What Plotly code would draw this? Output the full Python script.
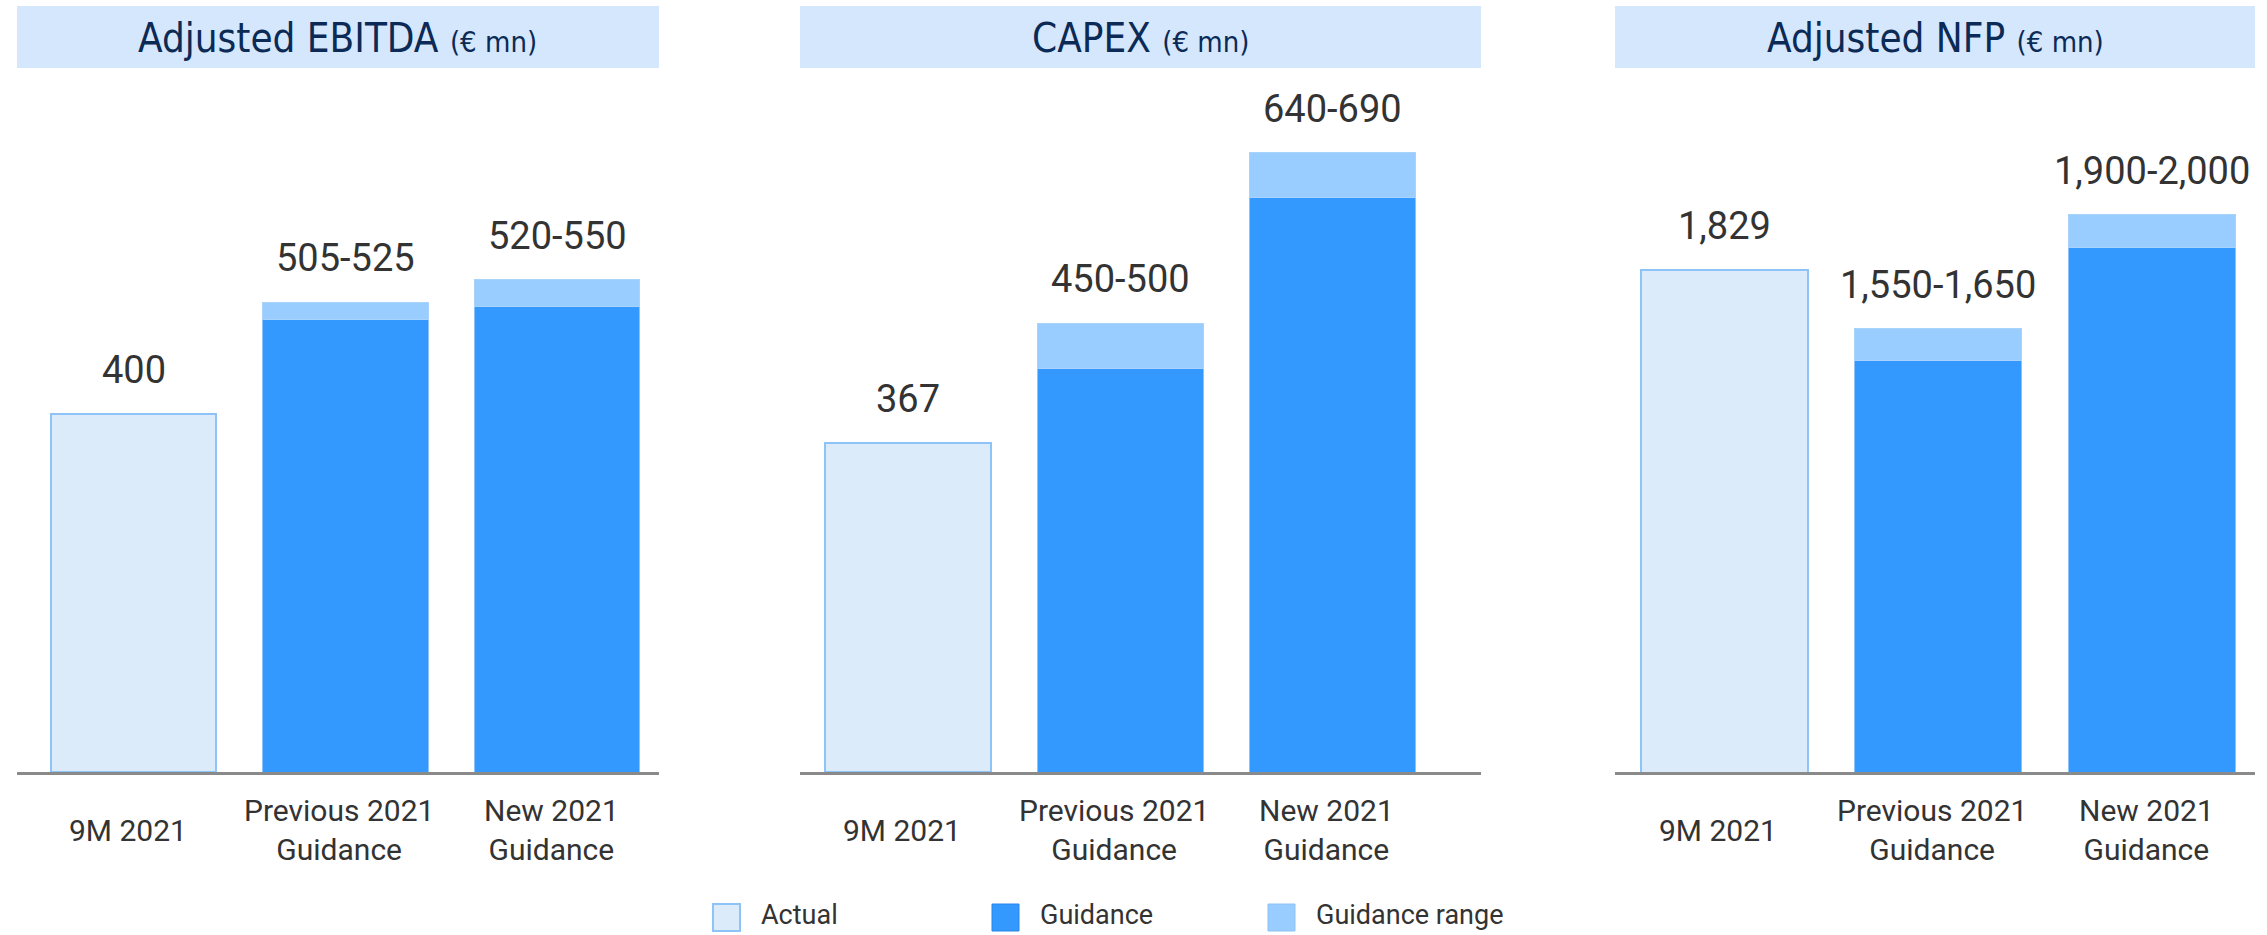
import plotly.graph_objects as go

# ---------------- data ----------------
categories = ["9M 2021", "Previous 2021 Guidance", "New 2021 Guidance"]
tick_labels = ["9M 2021", "Previous 2021<br>Guidance", "New 2021<br>Guidance"]

panel_titles = ["Adjusted EBITDA", "CAPEX", "Adjusted NFP"]
panel_units = ["(€ mn)", "(€ mn)", "(€ mn)"]

legend_labels = ["Actual", "Guidance", "Guidance range"]

ebitda_actual = [400, None, None]
ebitda_low = [None, 505, 520]
ebitda_high = [None, 525, 550]

capex_actual = [367, None, None]
capex_low = [None, 450, 640]
capex_high = [None, 500, 690]

nfp_actual = [1829, None, None]
nfp_low = [None, 1550, 1900]
nfp_high = [None, 1650, 2000]

series = [
    (ebitda_actual, ebitda_low, ebitda_high),
    (capex_actual, capex_low, capex_high),
    (nfp_actual, nfp_low, nfp_high),
]

# ---------------- style ----------------
W, H = 2267, 935
C_ACTUAL = "#DCEBFA"
C_ACTUAL_LINE = "#8DC3F7"
C_GUID = "#3399FF"
C_RANGE = "#99CCFF"
C_TITLE_BG = "#D5E7FD"
C_TITLE = "#0B2A55"
C_TEXT = "#333333"
LABEL_FONT = "Roboto, Arial, sans-serif"
TITLE_FONT = "'Liberation Sans Narrow', 'Arial Narrow', 'DejaVu Sans Condensed', sans-serif"

x_domains = [(17 / W, 659 / W), (800 / W, 1481 / W), (1615 / W, 2255 / W)]
x_ranges = [(-0.55, 2.48), (-0.51, 2.70), (-0.51, 2.48)]
y_bottom_px, y_top_px = 772, 80
y_domain = (1 - y_bottom_px / H, 1 - y_top_px / H)
y_ranges = [(0, 773), (0, 771), (283, 2416)]

fig = go.Figure()
annotations = []
shapes = []

for i, (actual, low, high) in enumerate(series):
    xa = "x" if i == 0 else f"x{i+1}"
    ya = "y" if i == 0 else f"y{i+1}"
    rng = [None if (l is None or h is None) else h - l for l, h in zip(low, high)]
    fig.add_trace(go.Bar(
        x=categories, y=actual, xaxis=xa, yaxis=ya, name=legend_labels[0],
        marker=dict(color=C_ACTUAL, line=dict(color=C_ACTUAL_LINE, width=2)),
        width=0.78, showlegend=False, hoverinfo="skip",
    ))
    fig.add_trace(go.Bar(
        x=categories, y=low, xaxis=xa, yaxis=ya, name=legend_labels[1],
        marker=dict(color=C_GUID, line=dict(color="#8CC3F8", width=1)),
        width=0.78, showlegend=False, hoverinfo="skip",
    ))
    fig.add_trace(go.Bar(
        x=categories, y=rng, xaxis=xa, yaxis=ya, name=legend_labels[2],
        marker=dict(color=C_RANGE, line=dict(color="#A9D3FB", width=1)),
        width=0.78, showlegend=False, hoverinfo="skip",
    ))

    # value labels
    for c, a, l, h in zip(categories, actual, low, high):
        if a is not None:
            txt, top = f"{a:,}", a
        else:
            txt, top = f"{l:,}-{h:,}", h
        annotations.append(dict(
            x=c, y=top, xref=xa, yref=ya, text=txt, showarrow=False,
            yanchor="bottom", yshift=20,
            font=dict(family=LABEL_FONT, size=38, color=C_TEXT),
        ))

    # category labels
    for c, t in zip(categories, tick_labels):
        annotations.append(dict(
            x=c, y=1 - 830 / H, xref=xa, yref="paper", text=t, showarrow=False,
            yanchor="middle", xanchor="center", align="center", xshift=-6,
            font=dict(family=LABEL_FONT, size=30, color=C_TEXT),
        ))

    # panel title box
    d0, d1 = x_domains[i]
    shapes.append(dict(type="rect", xref="paper", yref="paper",
                       x0=d0, x1=d1, y0=1 - 68 / H, y1=1 - 6 / H,
                       fillcolor=C_TITLE_BG, line=dict(width=0), layer="below"))
    annotations.append(dict(
        x=(d0 + d1) / 2, y=1 - 38 / H, xref="paper", yref="paper",
        text=f"{panel_titles[i]} <span style='font-size:29px'>{panel_units[i]}</span>",
        showarrow=False, xanchor="center", yanchor="middle",
        font=dict(family=TITLE_FONT, size=40, color=C_TITLE),
    ))

    axis_x = dict(domain=list(x_domains[i]), range=list(x_ranges[i]), type="category",
                  showline=True, linecolor="#8A8A8A", linewidth=3,
                  showticklabels=False, ticks="", showgrid=False, zeroline=False,
                  fixedrange=True, anchor=ya)
    axis_y = dict(domain=list(y_domain), range=list(y_ranges[i]), visible=False,
                  showgrid=False, zeroline=False, fixedrange=True, anchor=xa)
    if i == 0:
        fig.update_layout(xaxis=axis_x, yaxis=axis_y)
    else:
        fig.update_layout(**{f"xaxis{i+1}": axis_x, f"yaxis{i+1}": axis_y})

# ---------------- legend (swatches + labels) ----------------
legend_swatch_x = [713, 992, 1268]
legend_styles = [
    dict(fillcolor=C_ACTUAL, line=dict(color=C_ACTUAL_LINE, width=2)),
    dict(fillcolor=C_GUID, line=dict(color="#2A86E6", width=1)),
    dict(fillcolor=C_RANGE, line=dict(color="#8EC2F5", width=1)),
]
for lx, lab, st in zip(legend_swatch_x, legend_labels, legend_styles):
    shapes.append(dict(type="rect", xref="paper", yref="paper",
                       x0=lx / W, x1=(lx + 27) / W, y0=1 - 931 / H, y1=1 - 904 / H, **st))
    annotations.append(dict(
        x=(lx + 46) / W, y=1 - 915 / H, xref="paper", yref="paper", text=lab,
        showarrow=False, xanchor="left", yanchor="middle",
        font=dict(family=LABEL_FONT, size=27, color=C_TEXT),
    ))

fig.update_layout(
    width=W, height=H,
    margin=dict(l=0, r=0, t=0, b=0),
    paper_bgcolor="white", plot_bgcolor="white",
    barmode="stack",
    annotations=annotations,
    shapes=shapes,
    showlegend=False,
)

fig.write_html("out.html", config={"displayModeBar": False},
               post_script="document.body.style.margin='0';document.body.style.overflow='hidden';")
